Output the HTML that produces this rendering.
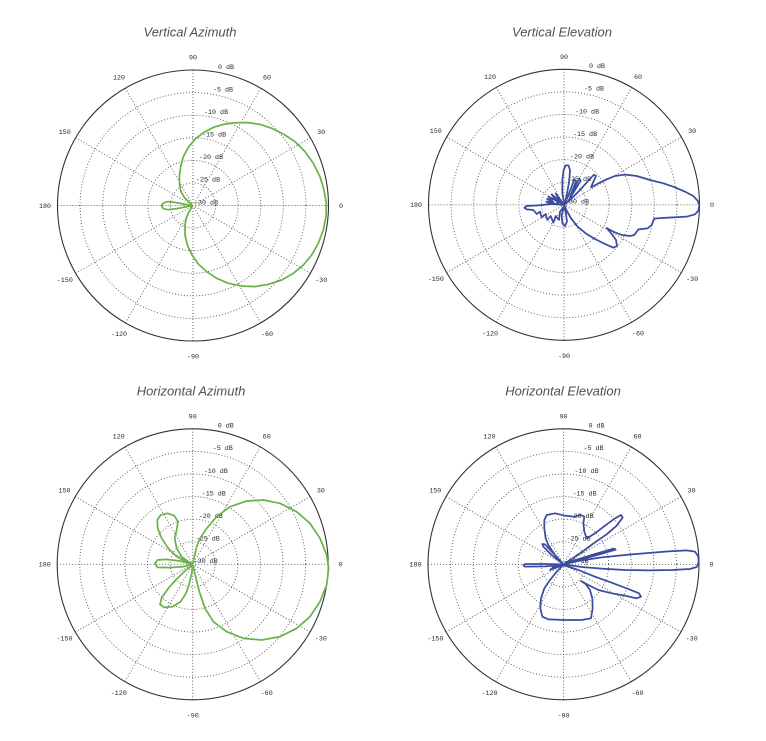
<!DOCTYPE html>
<html><head><meta charset="utf-8"><style>
html,body{margin:0;padding:0;background:#fff;}
svg{display:block;}
.t{font-family:"Liberation Sans",sans-serif;font-style:italic;font-size:13px;fill:#505050;}
.l{font-family:"Liberation Mono",monospace;font-size:6.7px;fill:#2a2a2a;}
.g circle,.g line{fill:none;stroke:#555;stroke-width:0.9;stroke-dasharray:1 2;}
.o{fill:none;stroke:#333;stroke-width:1.1;}
.cg{fill:none;stroke:#6bb24b;stroke-width:5.2;stroke-linejoin:round;stroke-linecap:round;}
.cb{fill:none;stroke:#3b4c9e;stroke-width:5.2;stroke-linejoin:round;stroke-linecap:round;}
</style></head><body>
<svg width="766" height="741" viewBox="0 0 766 741" xmlns="http://www.w3.org/2000/svg">
<rect width="766" height="741" fill="#fff"/>
<text class="t" x="190" y="36.7" text-anchor="middle">Vertical Azimuth</text>
<text class="t" x="562" y="36.7" text-anchor="middle">Vertical Elevation</text>
<text class="t" x="191" y="395.7" text-anchor="middle">Horizontal Azimuth</text>
<text class="t" x="563" y="395.7" text-anchor="middle">Horizontal Elevation</text>

<!-- Chart TL -->
<g transform="translate(193,205.5)">
<g class="g">
<circle r="22.58"/><circle r="45.17"/><circle r="67.75"/><circle r="90.33"/><circle r="112.92"/>
<line x1="-135.5" y1="0" x2="135.5" y2="0"/><line x1="-117.35" y1="67.75" x2="117.35" y2="-67.75"/><line x1="-67.75" y1="117.35" x2="67.75" y2="-117.35"/><line x1="0" y1="135.5" x2="0" y2="-135.5"/><line x1="67.75" y1="117.35" x2="-67.75" y2="-117.35"/><line x1="117.35" y1="67.75" x2="-117.35" y2="-67.75"/>
</g>
<circle class="o" r="135.5"/>
<g class="l" text-anchor="middle">
<text x="148" y="2.3">0</text><text x="128.2" y="-71.7">30</text><text x="74" y="-125.9">60</text><text x="0" y="-146">90</text><text x="-74" y="-125.9">120</text><text x="-128.2" y="-71.7">150</text><text x="-148" y="2.3">180</text><text x="-128.2" y="76.3">-150</text><text x="-74" y="130.5">-120</text><text x="0" y="153">-90</text><text x="74" y="130.5">-60</text><text x="128.2" y="76.3">-30</text>
</g>
<g class="l">
<text x="25" y="-136.7">0 dB</text><text x="20" y="-114.1">-5 dB</text><text x="11" y="-91.5">-10 dB</text><text x="9" y="-69">-15 dB</text><text x="6" y="-46.4">-20 dB</text><text x="3" y="-23.8">-25 dB</text><text x="1" y="-1.2">-30 dB</text>
</g>
</g>

<!-- Chart TR -->
<g transform="translate(564,204.8)">
<g class="g">
<circle r="22.58"/><circle r="45.17"/><circle r="67.75"/><circle r="90.33"/><circle r="112.92"/>
<line x1="-135.5" y1="0" x2="135.5" y2="0"/><line x1="-117.35" y1="67.75" x2="117.35" y2="-67.75"/><line x1="-67.75" y1="117.35" x2="67.75" y2="-117.35"/><line x1="0" y1="135.5" x2="0" y2="-135.5"/><line x1="67.75" y1="117.35" x2="-67.75" y2="-117.35"/><line x1="117.35" y1="67.75" x2="-117.35" y2="-67.75"/>
</g>
<circle class="o" r="135.5"/>
<g class="l" text-anchor="middle">
<text x="148" y="2.3">0</text><text x="128.2" y="-71.7">30</text><text x="74" y="-125.9">60</text><text x="0" y="-146">90</text><text x="-74" y="-125.9">120</text><text x="-128.2" y="-71.7">150</text><text x="-148" y="2.3">180</text><text x="-128.2" y="76.3">-150</text><text x="-74" y="130.5">-120</text><text x="0" y="153">-90</text><text x="74" y="130.5">-60</text><text x="128.2" y="76.3">-30</text>
</g>
<g class="l">
<text x="25" y="-136.7">0 dB</text><text x="20" y="-114.1">-5 dB</text><text x="11" y="-91.5">-10 dB</text><text x="9" y="-69">-15 dB</text><text x="6" y="-46.4">-20 dB</text><text x="3" y="-23.8">-25 dB</text><text x="1" y="-1.2">-30 dB</text>
</g>
</g>

<!-- Chart BL -->
<g transform="translate(192.7,564.3)">
<g class="g">
<circle r="22.58"/><circle r="45.17"/><circle r="67.75"/><circle r="90.33"/><circle r="112.92"/>
<line x1="-135.5" y1="0" x2="135.5" y2="0"/><line x1="-117.35" y1="67.75" x2="117.35" y2="-67.75"/><line x1="-67.75" y1="117.35" x2="67.75" y2="-117.35"/><line x1="0" y1="135.5" x2="0" y2="-135.5"/><line x1="67.75" y1="117.35" x2="-67.75" y2="-117.35"/><line x1="117.35" y1="67.75" x2="-117.35" y2="-67.75"/>
</g>
<circle class="o" r="135.5"/>
<g class="l" text-anchor="middle">
<text x="148" y="2.3">0</text><text x="128.2" y="-71.7">30</text><text x="74" y="-125.9">60</text><text x="0" y="-146">90</text><text x="-74" y="-125.9">120</text><text x="-128.2" y="-71.7">150</text><text x="-148" y="2.3">180</text><text x="-128.2" y="76.3">-150</text><text x="-74" y="130.5">-120</text><text x="0" y="153">-90</text><text x="74" y="130.5">-60</text><text x="128.2" y="76.3">-30</text>
</g>
<g class="l">
<text x="25" y="-136.7">0 dB</text><text x="20" y="-114.1">-5 dB</text><text x="11" y="-91.5">-10 dB</text><text x="9" y="-69">-15 dB</text><text x="6" y="-46.4">-20 dB</text><text x="3" y="-23.8">-25 dB</text><text x="1" y="-1.2">-30 dB</text>
</g>
</g>

<!-- Chart BR -->
<g transform="translate(563.5,564.3)">
<g class="g">
<circle r="22.58"/><circle r="45.17"/><circle r="67.75"/><circle r="90.33"/><circle r="112.92"/>
<line x1="-135.5" y1="0" x2="135.5" y2="0"/><line x1="-117.35" y1="67.75" x2="117.35" y2="-67.75"/><line x1="-67.75" y1="117.35" x2="67.75" y2="-117.35"/><line x1="0" y1="135.5" x2="0" y2="-135.5"/><line x1="67.75" y1="117.35" x2="-67.75" y2="-117.35"/><line x1="117.35" y1="67.75" x2="-117.35" y2="-67.75"/>
</g>
<circle class="o" r="135.5"/>
<g class="l" text-anchor="middle">
<text x="148" y="2.3">0</text><text x="128.2" y="-71.7">30</text><text x="74" y="-125.9">60</text><text x="0" y="-146">90</text><text x="-74" y="-125.9">120</text><text x="-128.2" y="-71.7">150</text><text x="-148" y="2.3">180</text><text x="-128.2" y="76.3">-150</text><text x="-74" y="130.5">-120</text><text x="0" y="153">-90</text><text x="74" y="130.5">-60</text><text x="128.2" y="76.3">-30</text>
</g>
<g class="l">
<text x="25" y="-136.7">0 dB</text><text x="20" y="-114.1">-5 dB</text><text x="11" y="-91.5">-10 dB</text><text x="9" y="-69">-15 dB</text><text x="6" y="-46.4">-20 dB</text><text x="3" y="-23.8">-25 dB</text><text x="1" y="-1.2">-30 dB</text>
</g>
</g>

<!-- Curve TL (green) -->
<g transform="translate(150,110) scale(0.33333)">
<path class="cg" d="M128,287 L118,277 L103,262 L93,245 L89,225 L88,200 L92,170 L100,140 L115,112 L135,88 L160,68 L190,52 L225,42 L260,38 L295,38 L330,43 L365,55 L400,72 L435,95 L465,125 L490,160 L510,200 L522,240 L529,280 L528,320 L520,360 L505,400 L485,435 L460,465 L430,490 L395,510 L355,523 L315,530 L275,528 L235,520 L200,505 L170,485 L145,462 L126,435 L112,405 L105,375 L105,345 L110,320 L120,300 Z"/>
<path class="cg" d="M128,287 L100,282 L75,277 L52,275 L38,280 L35,288 L40,296 L55,299 L80,296 L105,291 Z"/>
</g>

<!-- Curve BL (green) -->
<g transform="translate(40,375) scale(0.33333)">
<path class="cg" d="M458,568 L463,545 L470,515 L480,490 L500,460 L530,425 L570,395 L620,378 L670,375 L720,385 L770,410 L810,445 L840,490 L860,540 L866,580 L860,630 L840,680 L810,725 L770,760 L720,785 L665,795 L610,790 L560,770 L520,740 L495,700 L478,650 L468,610 L462,585 Z"/>
<path class="cg" d="M458,568 L435,558 L410,545 L385,520 L365,490 L353,460 L352,435 L362,420 L382,415 L403,422 L414,440 L410,465 L404,490 L410,520 L425,545 L445,560 Z"/>
<path class="cg" d="M458,568 L420,558 L380,553 L352,555 L345,565 L352,577 L390,578 L430,575 Z"/>
<path class="cg" d="M458,570 L435,588 L410,612 L385,640 L365,668 L360,688 L372,697 L398,695 L422,680 L438,655 L448,625 L455,595 Z"/>
</g>

<!-- Curve TR (blue) -->
<g transform="translate(515,140) scale(0.33333)">
<path class="cb" d="M148,195 L170,175 L195,150 L220,122 L237,104 L243,108 L232,132 L228,142 L250,130 L275,118 L300,108 L330,104 L365,108 L405,120 L445,130 L480,142 L510,155 L535,168 L548,182 L553,196 L550,212 L540,223 L515,230 L475,232 L440,234 L418,236 L410,255 L398,265 L370,268 L358,285 L345,288 L320,285 L295,275 L275,264 L290,282 L303,300 L306,318 L295,323 L270,312 L240,297 L212,280 L188,260 L168,235 L155,212 Z"/>
<path class="cb" d="M148,195 L142,160 L142,120 L146,90 L152,76 L160,76 L165,90 L163,120 L158,150 L150,190"/>
<path class="cb" d="M150,190 L170,140 L178,118 L183,125 L165,170 L185,130 L193,115 L197,122 L158,186"/>
<path class="cb" d="M148,195 L100,170 L112,180 L96,177 L115,186 L94,185 L118,190 L97,192 L130,192 L110,163 L135,185 L122,160 L142,188"/>
<path class="cb" d="M148,195 L110,192 L70,196 L35,198 L28,203 L35,208 L55,210 L65,222 L75,215 L80,232 L92,222 L97,240 L107,228 L115,248 L122,228 L132,240 L135,215 L148,198"/>
<path class="cb" d="M148,198 L140,225 L142,250 L150,258 L156,245 L152,215 Z"/>
</g>

<!-- Curve BR (blue) -->
<g transform="translate(515,505) scale(0.33333)">
<path class="cb" d="M145,178 L200,166 L260,157 L330,150 L400,144 L460,139 L515,136 L540,140 L550,155 L551,172 L545,186 L525,192 L470,195 L400,196 L330,195 L260,191 L200,186 Z"/>
<path class="cb" d="M150,175 L230,150 L295,131 L302,134 L240,152 L165,172 L270,140 L300,132"/>
<path class="cb" d="M145,178 L120,150 L100,120 L92,100 L88,70 L88,45 L95,30 L120,25 L150,32 L175,35 L198,30 L208,35 L205,55 L208,80 L215,100 L240,85 L270,62 L300,40 L318,30 L323,38 L305,62 L275,88 L240,112 L205,138 L170,162 Z"/>
<path class="cb" d="M145,178 L110,150 L85,125 L82,117 L90,118 L115,145 Z"/>
<path class="cb" d="M145,178 L90,177 L30,177 L25,181 L30,185 L90,184 L145,180 L115,190 L120,182 L105,195 L145,180"/>
<path class="cb" d="M145,180 L125,200 L105,225 L88,250 L78,280 L76,310 L82,335 L100,343 L150,345 L200,345 L228,340 L233,310 L232,280 L225,255 L212,237 L198,228 L220,240 L250,255 L290,265 L330,272 L365,280 L378,275 L372,265 L340,252 L290,233 L240,215 L190,195 Z"/>
</g>
</svg>
</body></html>
